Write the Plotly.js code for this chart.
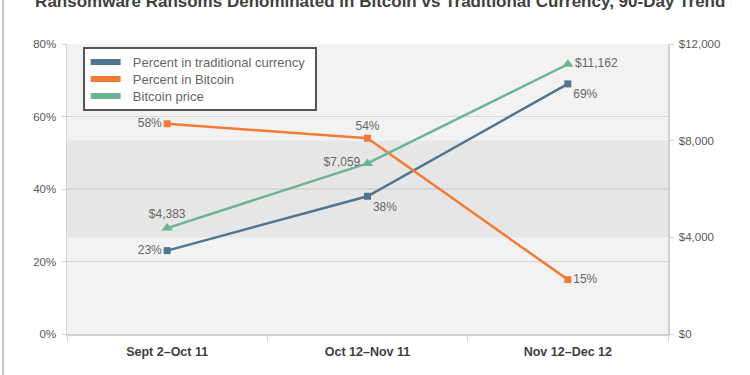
<!DOCTYPE html>
<html>
<head>
<meta charset="utf-8">
<script src="https://cdn.plot.ly/plotly-3.0.1.min.js"></script>
<style>html,body{margin:0;padding:0;background:#fff;}#chart{width:750px;height:375px;}</style>
</head>
<body>
<div id="chart"></div>
<script>
var categories = ["Sept 2–Oct 11", "Oct 12–Nov 11", "Nov 12–Dec 12"];
var pctTraditional = [23, 38, 69];
var pctBitcoin = [58, 54, 15];
var bitcoinPrice = [4383, 7059, 11162];
var pctTicks = [0, 20, 40, 60, 80];
var priceTicks = [0, 4000, 8000, 12000];
var seriesNames = ["Percent in traditional currency", "Percent in Bitcoin", "Bitcoin price"];

var cBlue = "#4f7590", cOrange = "#f47a36", cGreen = "#6bb393";
var FAM = "Liberation Sans, Arial, sans-serif";
var labelFont = {family: FAM, size: 12, color: "#666666"};

function pct(v){ return v + "%"; }
function usd(v){ return "$" + v.toLocaleString("en-US"); }
function pad(s){ return "\u00a0\u00a0" + s; }

var traces = [
  {x: categories, y: pctTraditional, type: "scatter", mode: "lines+markers+text",
   line: {color: cBlue, width: 2.5}, marker: {symbol: "square", size: 7, color: cBlue},
   text: pctTraditional.map(pct), textposition: ["middle left", "bottom right", "bottom right"],
   textfont: labelFont, showlegend: false, cliponaxis: false, hoverinfo: "skip"},
  {x: categories, y: pctBitcoin, type: "scatter", mode: "lines+markers+text",
   line: {color: cOrange, width: 2.5}, marker: {symbol: "square", size: 7, color: cOrange},
   text: pctBitcoin.map(pct), textposition: ["middle left", "top center", "middle right"],
   textfont: labelFont, showlegend: false, cliponaxis: false, hoverinfo: "skip"},
  {x: categories, y: bitcoinPrice, yaxis: "y2", type: "scatter", mode: "lines+markers+text",
   line: {color: cGreen, width: 2.5}, marker: {symbol: "triangle-up", size: 10, color: cGreen},
   text: bitcoinPrice.map(usd), textposition: ["top center", "middle left", "middle right"],
   textfont: labelFont, showlegend: false, cliponaxis: false, hoverinfo: "skip"},
  {x: [null], y: [null], type: "scatter", mode: "lines", name: pad(seriesNames[0]), legend: "legend",
   line: {color: cBlue, width: 6}},
  {x: [null], y: [null], type: "scatter", mode: "lines", name: pad(seriesNames[1]), legend: "legend2",
   line: {color: cOrange, width: 6}},
  {x: [null], y: [null], type: "scatter", mode: "lines", name: pad(seriesNames[2]), legend: "legend3",
   line: {color: cGreen, width: 6}}
];

var tickFont = {family: FAM, size: 11.5, color: "#595959"};
function legendAt(yPx){
  return {x: 0.031, y: (334 - yPx) / 290, xanchor: "left", yanchor: "middle", bgcolor: "rgba(0,0,0,0)",
          borderwidth: 0, font: {family: FAM, size: 13, color: "#666666"}, itemwidth: 30};
}

var layout = {
  width: 750, height: 375,
  margin: {l: 67, r: 82, t: 44, b: 41, pad: 0},
  paper_bgcolor: "#ffffff", plot_bgcolor: "#f2f2f2",
  font: {family: FAM},
  title: {text: "Ransomware Ransoms Denominated in Bitcoin vs Traditional Currency, 90-Day Trend",
          font: {family: FAM, size: 17, color: "#404040", weight: "bold"},
          x: 0.507, xanchor: "center", xref: "container", y: 0.997, yanchor: "middle", yref: "container"},
  xaxis: {type: "category", tickson: "boundaries", ticks: "outside", ticklen: 5, tickcolor: "#d0d0d0",
          showline: true, linecolor: "#d0d0d0", linewidth: 1.5, showgrid: false, ticklabelstandoff: 5,
          tickfont: {family: FAM, size: 12.5, color: "#404040", weight: "bold"},
          range: [-0.5, 2.5], fixedrange: true},
  yaxis: {range: [0, 80], tickvals: pctTicks, ticktext: pctTicks.map(pct), ticks: "outside", ticklen: 4,
          tickcolor: "#d0d0d0", showline: true, linecolor: "#d0d0d0", linewidth: 1.5, ticklabelstandoff: 3,
          showgrid: true, gridcolor: "#d6d6d6", gridwidth: 1.5, zeroline: false, tickfont: tickFont},
  yaxis2: {range: [0, 12000], tickvals: priceTicks, ticktext: priceTicks.map(usd), overlaying: "y", side: "right",
           ticks: "outside", ticklen: 4, tickcolor: "#d0d0d0", showline: true, linecolor: "#d0d0d0", linewidth: 1.5,
           ticklabelstandoff: 3, showgrid: false, zeroline: false, tickfont: tickFont},
  shapes: [
    {type: "rect", xref: "paper", yref: "y2", x0: 0, x1: 1, y0: 4000, y1: 8000,
     fillcolor: "#e6e6e6", line: {width: 0}, layer: "below"},
    {type: "line", xref: "paper", yref: "paper", x0: -0.1065, x1: -0.1065, y0: -0.2, y1: 1.2,
     line: {color: "#8c8c8c", width: 1}},
    {type: "rect", xref: "paper", yref: "paper", x0: (84 - 67) / 601, x1: (316 - 67) / 601,
     y0: (334 - 110) / 290, y1: (334 - 48) / 290, fillcolor: "#ffffff",
     line: {color: "#555555", width: 2}, layer: "above"}
  ],
  legend: legendAt(62),
  legend2: legendAt(79),
  legend3: legendAt(96),
  showlegend: true
};

Plotly.newPlot("chart", traces, layout, {displayModeBar: false, staticPlot: true});
</script>
</body>
</html>
